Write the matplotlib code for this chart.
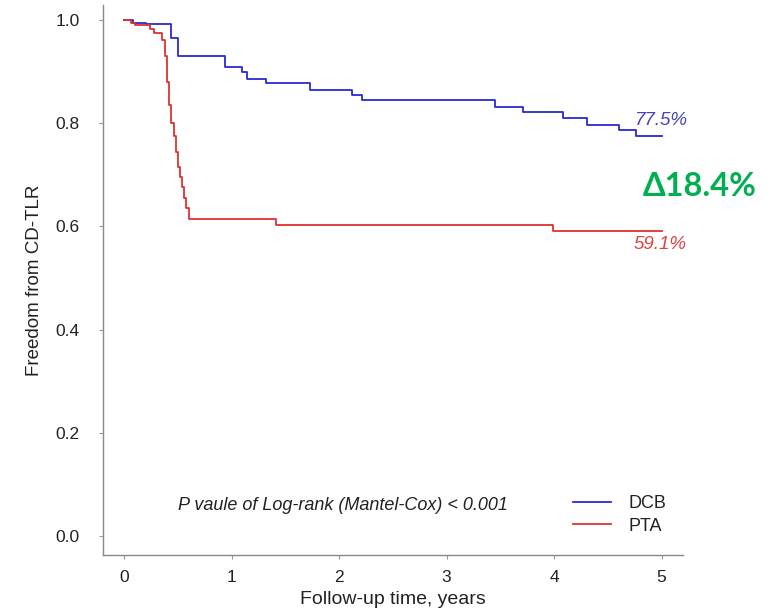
import matplotlib
matplotlib.use("Agg")
import matplotlib.pyplot as plt

# ---- data ----
dcb_time = [0.0, 0.08, 0.20, 0.44, 0.50, 0.94, 1.10, 1.14, 1.32, 1.73, 2.12, 2.21,
            3.45, 3.71, 4.08, 4.31, 4.60, 4.76, 5.0]
dcb_surv = [1.0, 0.995, 0.992, 0.965, 0.930, 0.909, 0.899, 0.886, 0.878, 0.864, 0.855, 0.845,
            0.831, 0.822, 0.810, 0.797, 0.787, 0.775, 0.775]

pta_time = [0.0, 0.06, 0.10, 0.24, 0.28, 0.35, 0.38, 0.40, 0.42, 0.44, 0.46, 0.48,
            0.50, 0.52, 0.54, 0.56, 0.58, 0.60, 1.41, 3.99, 5.0]
pta_surv = [1.0, 0.995, 0.990, 0.983, 0.975, 0.962, 0.930, 0.880, 0.835, 0.800, 0.775, 0.745,
            0.715, 0.695, 0.676, 0.655, 0.635, 0.614, 0.603, 0.591, 0.591]

x_ticks = [0, 1, 2, 3, 4, 5]
y_ticks = [0.0, 0.2, 0.4, 0.6, 0.8, 1.0]
dcb_label = "77.5%"
pta_label = "59.1%"
delta_label = "Δ18.4%"
pvalue_text = "P vaule of Log-rank (Mantel-Cox) < 0.001"

blue = "#2a2ad0"
red = "#e03030"
FONT = 'Liberation Sans'

plt.rcParams['font.family'] = [FONT, 'DejaVu Sans']

fig = plt.figure(figsize=(7.71, 6.08), dpi=100)
ax = fig.add_axes([0.1336, 0.0872, 0.886 - 0.1336, 0.9918 - 0.0872])

ax.step(dcb_time, dcb_surv, where='post', color=blue, lw=1.3, label='DCB')
ax.step(pta_time, pta_surv, where='post', color=red, lw=1.3, label='PTA')

ax.set_xlim(-0.196, 5.2)
ax.set_ylim(-0.037, 1.029)
ax.set_xticks(x_ticks)
ax.set_xticklabels([str(t) for t in x_ticks], fontsize=12.5, color='#222222')
ax.set_yticks(y_ticks)
ax.set_yticklabels([f"{t:.1f}" for t in y_ticks], fontsize=12.5, color='#222222')

for s in ['top', 'right']:
    ax.spines[s].set_visible(False)
for s in ['left', 'bottom']:
    ax.spines[s].set_color('#888888')
    ax.spines[s].set_linewidth(1.0)
ax.tick_params(axis='both', colors='#999999', length=3, direction='out', labelcolor='#222222')
ax.tick_params(axis='y', pad=14)
ax.tick_params(axis='x', pad=8)

ax.set_xlabel("Follow-up time, years", fontsize=14, color='#222222', labelpad=4)
ax.set_ylabel("Freedom from CD-TLR", fontsize=13.5, color='#222222', labelpad=9)

ax.text(4.99, 0.805, dcb_label, color='#4444bb', fontsize=13.5, style='italic',
        ha='center', va='center')
ax.text(4.99, 0.565, pta_label, color='#e04040', fontsize=13.5, style='italic',
        ha='center', va='center')
fig.text(700 / 771, 1 - 186 / 608, delta_label, color='#00b050', fontsize=23.5, fontweight='bold',
         family='Lato', ha='center', va='center')

ax.text(2.04, 0.058, pvalue_text, fontsize=13, style='italic',
        ha='center', va='center', color='#222222')

leg = fig.legend(loc='center left', bbox_to_anchor=(573 / 771, 1 - 515 / 608), frameon=False,
                 handlelength=2.1, handletextpad=1.0, labelspacing=0.3,
                 borderaxespad=0, borderpad=0, prop={'family': FONT, 'size': 13})
for t in leg.get_texts():
    t.set_color('#222222')

fig.savefig("out.png", dpi=100, facecolor='white')
